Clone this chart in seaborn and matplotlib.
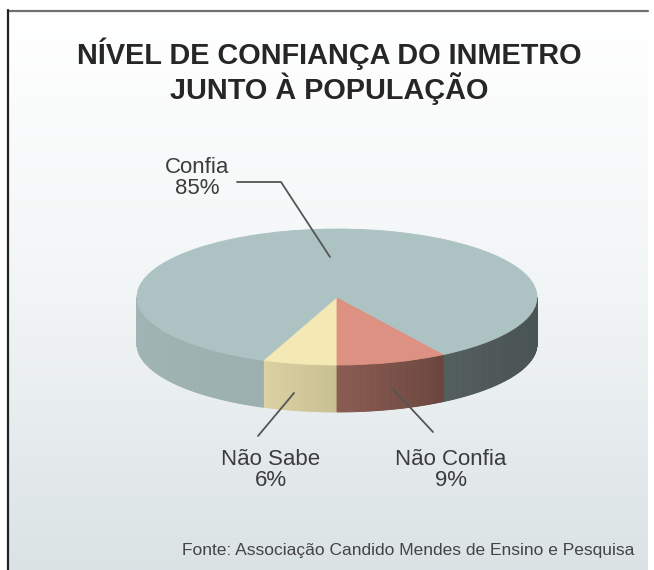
import numpy as np
import matplotlib
matplotlib.use("Agg")
import matplotlib.pyplot as plt
import seaborn as sns
from matplotlib.colors import to_rgb, LinearSegmentedColormap

sns.set_style("white")
plt.rcParams['font.family'] = ['Liberation Sans', 'DejaVu Sans']

# data
labels = ["Não Sabe", "Não Confia", "Confia"]
values = [6, 9, 85]
top_colors = ["#f4e9b4", "#dd9182", "#adc3c3"]
title = "NÍVEL DE CONFIANÇA DO INMETRO\nJUNTO À POPULAÇÃO"
source = "Fonte: Associação Candido Mendes de Ensino e Pesquisa"

W, H = 654, 570
fig = plt.figure(figsize=(W / 100, H / 100), dpi=100)

# background + frame, pixel coords
bg = fig.add_axes([0, 0, 1, 1])
grad = np.linspace(0, 1, 256)[:, None]
cmap = LinearSegmentedColormap.from_list("bg", ["#ffffff", "#f2f5f6", "#dbe3e5"])
bg.imshow(grad, extent=[9, 648, H, 12], cmap=cmap, aspect="auto", zorder=0)
bg.plot([8, 648], [11, 11], color="#707070", lw=1.6)
bg.plot([8, 8], [10, H], color="#222222", lw=1.6)
bg.set_xlim(0, W)
bg.set_ylim(H, 0)
bg.axis("off")

# pie geometry (pixels)
cx, cy, rx, ry, depth = 337, 297, 200, 68, 47
d = depth / ry

ax = fig.add_axes([0, 0, 1, 1], zorder=1)
ax.patch.set_alpha(0)
start = 270 - 360 * values[0] / sum(values)
wedges, _ = ax.pie(values, colors=top_colors, startangle=start, counterclock=True,
                   wedgeprops=dict(linewidth=0.6, zorder=2))
for w, c in zip(wedges, top_colors):
    w.set_edgecolor(c)

# side of the pie (front half only), shaded by angle
bounds = start + 360 * np.concatenate([[0], np.cumsum(values)]) / sum(values)
shade_t = [180, 248, 270, 270.01, 302, 330, 360]
shade_f = [0.93, 0.90, 0.82, 0.63, 0.48, 0.44, 0.43]
step = 0.5
for i, c in enumerate(top_colors):
    base = np.array(to_rgb(c))
    for t in np.arange(bounds[i], bounds[i + 1], step):
        t2 = min(t + step, bounds[i + 1])
        tm = ((t + t2) / 2) % 360
        if tm < 180:
            continue
        f = np.interp(tm, shade_t, shade_f)
        col = np.clip(base * f, 0, 1)
        a, b = np.radians(t), np.radians(t2)
        xs = [np.cos(a), np.cos(b), np.cos(b), np.cos(a)]
        ys = [np.sin(a), np.sin(b), np.sin(b) - d, np.sin(a) - d]
        ax.fill(xs, ys, color=col, lw=0.6, ec=col, zorder=1)

ax.set_aspect("auto")
ax.set_xlim(-cx / rx, (W - cx) / rx)
ax.set_ylim(-(H - cy) / ry, cy / ry)
ax.axis("off")

# text overlay, pixel coords
tx = fig.add_axes([0, 0, 1, 1], zorder=3)
tx.patch.set_alpha(0)
tx.set_xlim(0, W)
tx.set_ylim(H, 0)
tx.axis("off")

tx.text(329, 71, title, ha="center", va="center", fontsize=20.8, fontweight="bold",
        color="#262626", linespacing=1.1)

lab_pos = {"Confia": (197, 178), "Não Sabe": (271, 470), "Não Confia": (451, 470)}
leaders = {"Confia": [(237, 182), (281, 182), (330, 257)],
           "Não Sabe": [(258, 436), (294, 393)],
           "Não Confia": [(433, 432), (392, 388)]}
for lab, v in zip(labels, values):
    x, y = lab_pos[lab]
    tx.text(x, y, f"{lab}\n{v}%", ha="center", va="center", fontsize=16,
            color="#3c3c3c", linespacing=1.05)
    pts = np.array(leaders[lab])
    tx.plot(pts[:, 0], pts[:, 1], color="#555555", lw=1.3)

tx.text(634, 550, source, ha="right", va="center", fontsize=12.5, color="#444444")

fig.savefig("out.png", dpi=100)
